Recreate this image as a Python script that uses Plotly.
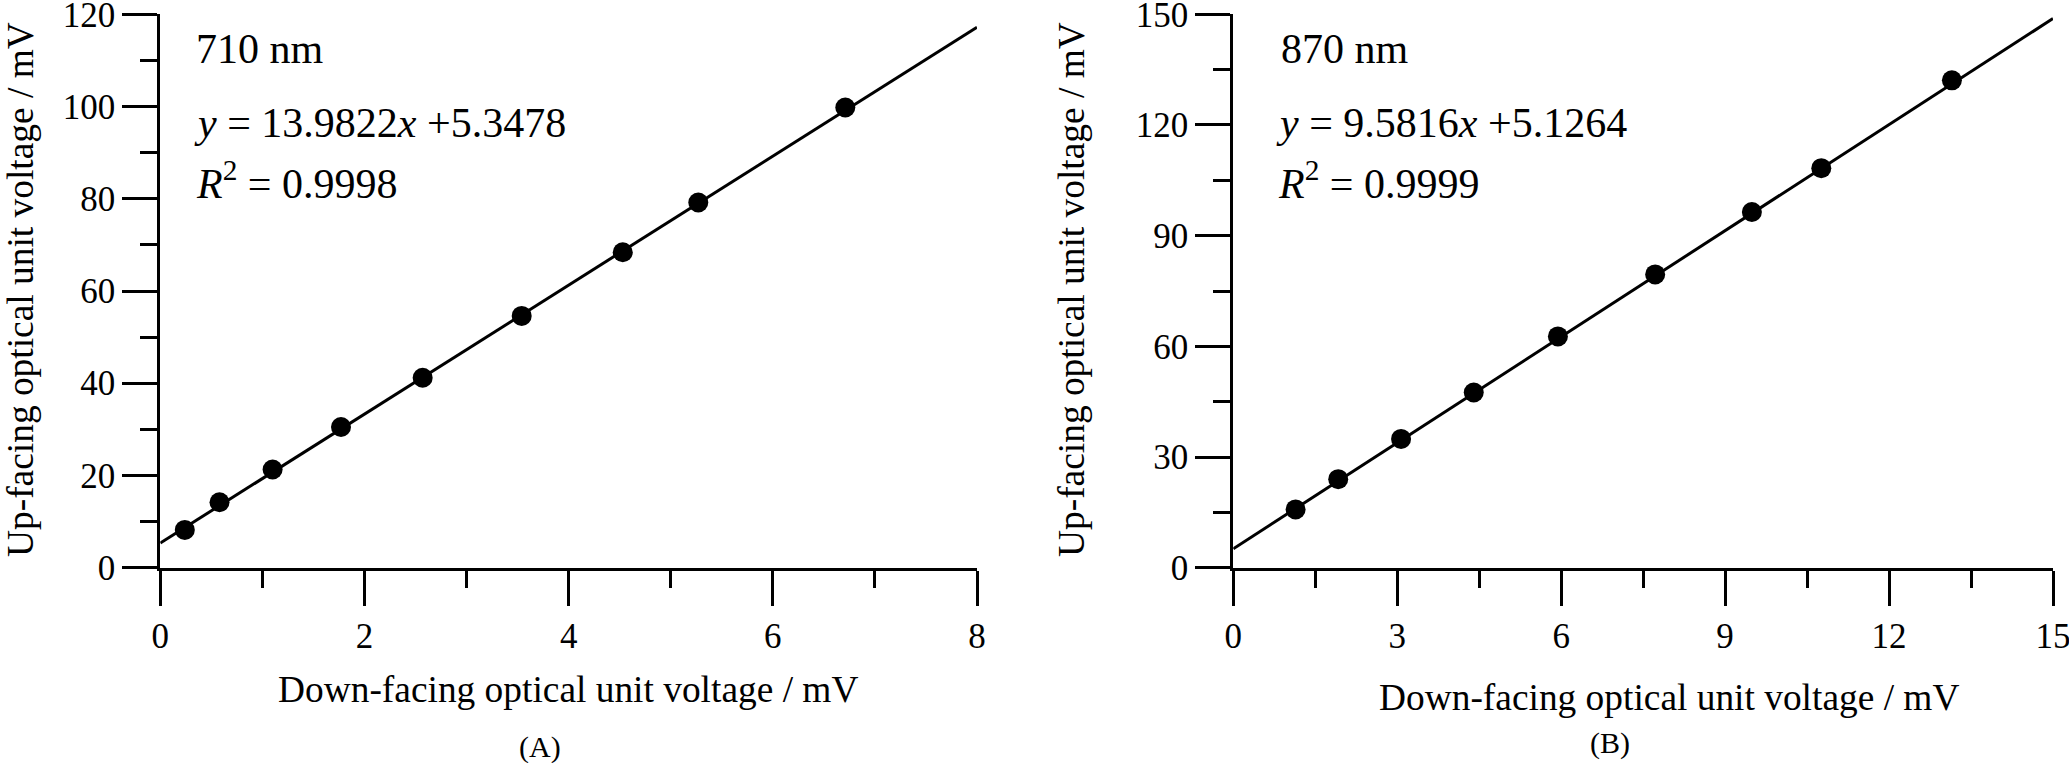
import plotly.graph_objects as go

W, H = 2069, 763

# panel A: 710 nm
down_710 = [0.24, 0.58, 1.10, 1.77, 2.57, 3.54, 4.53, 5.27, 6.71]
up_710 = [8.2, 14.2, 21.3, 30.5, 41.2, 54.6, 68.4, 79.2, 99.8]
slope_710, icpt_710, r2_710 = 13.9822, 5.3478, 0.9998

# panel B: 870 nm
down_870 = [1.14, 1.92, 3.07, 4.40, 5.94, 7.72, 9.49, 10.76, 13.15]
up_870 = [15.8, 24.0, 34.9, 47.5, 62.7, 79.5, 96.4, 108.3, 132.1]
slope_870, icpt_870, r2_870 = 9.5816, 5.1264, 0.9999

FONT = "Liberation Serif, Times New Roman, serif"


def px(x):
    return x / W


def py(y):
    return 1 - y / H


fig = go.Figure()


def add_panel(xs, ys, slope, icpt, xmax, xa, ya):
    fit_x = [0, xmax]
    fit_y = [slope * v + icpt for v in fit_x]
    fig.add_trace(go.Scatter(x=fit_x, y=fit_y, mode="lines",
                             line=dict(color="black", width=3),
                             xaxis=xa, yaxis=ya, showlegend=False))
    fig.add_trace(go.Scatter(x=xs, y=ys, mode="markers",
                             marker=dict(color="black", size=20),
                             xaxis=xa, yaxis=ya, showlegend=False))


add_panel(down_710, up_710, slope_710, icpt_710, 8, "x", "y")
add_panel(down_870, up_870, slope_870, icpt_870, 15, "x2", "y2")

ax_common = dict(showgrid=False, zeroline=False, showline=True,
                 linecolor="black", linewidth=3, ticks="outside",
                 ticklen=35, tickwidth=3, tickcolor="black",
                 ticklabeloverflow="allow", automargin=False,
                 tickfont=dict(family=FONT, size=35, color="black"))


def minor(step):
    return dict(dtick=step, ticklen=17, tickwidth=3, ticks="outside",
                tickcolor="black")


ydom = [py(567.7), py(14.3)]

fig.update_layout(
    width=W, height=H,
    margin=dict(l=0, r=0, t=0, b=0, autoexpand=False),
    paper_bgcolor="white", plot_bgcolor="white",
    xaxis=dict(domain=[px(160.3), px(977)], range=[0, 8], dtick=2,
               minor=minor(1), anchor="y", **ax_common),
    yaxis=dict(domain=ydom, range=[0, 120], dtick=20,
               minor=minor(10), anchor="x", **ax_common),
    xaxis2=dict(domain=[px(1233.3), px(2053)], range=[0, 15], dtick=3,
                minor=minor(1.5), anchor="y2", **ax_common),
    yaxis2=dict(domain=ydom, range=[0, 150], dtick=30,
                minor=minor(15), anchor="x2", **ax_common),
)


def note(text, x, y, size, xanchor="left", angle=0):
    fig.add_annotation(text=text, x=px(x), y=py(y), xref="paper", yref="paper",
                       xanchor=xanchor, yanchor="middle", showarrow=False,
                       textangle=angle,
                       font=dict(family=FONT, size=size, color="black"))


# text inside the plots
note("710 nm", 194, 48.8, 42)
note(f"<i>y</i> = {slope_710}<i>x</i> +{icpt_710}", 191.7, 122.5, 42)
note(f"<i>R</i><sup>2</sup> = {r2_710}", 194, 180.8, 42)
note("870 nm", 1279, 48.8, 42)
note(f"<i>y</i> = {slope_870}<i>x</i> +{icpt_870}", 1274, 122.5, 42)
note(f"<i>R</i><sup>2</sup> = {r2_870}", 1276, 180.8, 42)

# axis titles and panel labels
note("Down-facing optical unit voltage / mV", 568, 689.4, 37.4, "center")
note("Down-facing optical unit voltage / mV", 1668.5, 697.4, 37.4, "center")
note("Up-facing optical unit voltage / mV", 20, 290, 37.4, "center", -90)
note("Up-facing optical unit voltage / mV", 1071, 290, 37.4, "center", -90)
note("(A)", 540, 747, 30, "center")
note("(B)", 1610, 743, 30, "center")

fig.write_html("out.html", config={"displayModeBar": False},
               post_script="document.body.style.margin='0';")
